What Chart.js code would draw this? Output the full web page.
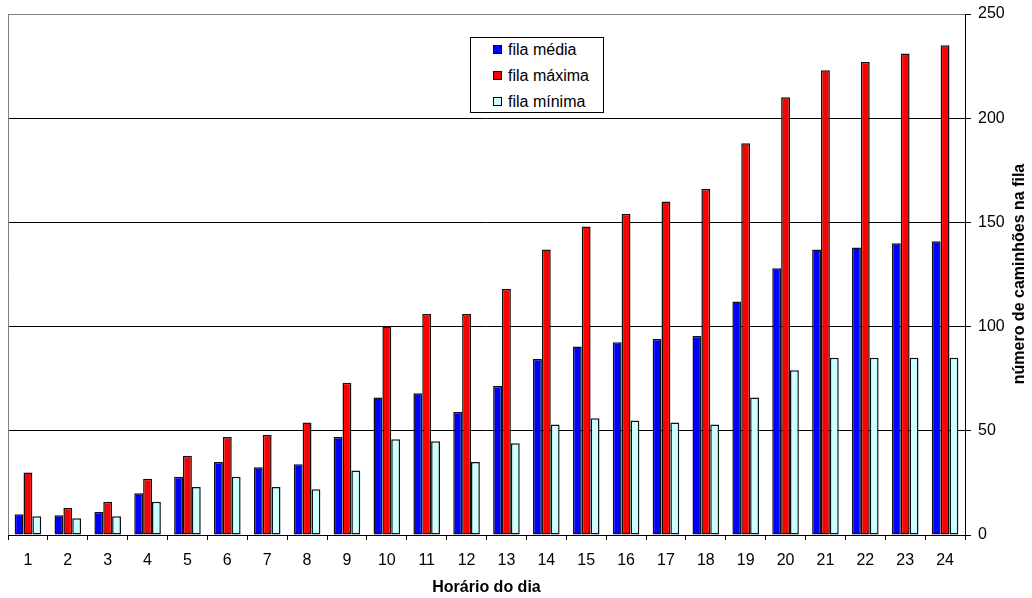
<!DOCTYPE html>
<html>
<head>
<meta charset="utf-8">
<script src="https://cdn.jsdelivr.net/npm/chart.js@4/dist/chart.umd.min.js"></script>
<style>
  body { margin: 0; background: #fff; }
  #wrap { position: relative; width: 1032px; height: 598px; }
  #legend {
    position: absolute; left: 470px; top: 37px; width: 132px; height: 74px;
    border: 1px solid #000; background: #fff;
    font-family: "Liberation Sans", Arial, sans-serif; font-size: 16px; color: #000;
  }
  .item { position: absolute; left: 22px; height: 20px; line-height: 20px; white-space: nowrap; }
  .item span.box {
    display: inline-block; width: 7px; height: 7px; border: 1px solid #000;
    margin-right: 6px; vertical-align: 1px;
  }
</style>
</head>
<body>
<div id="wrap">
  <canvas id="chart" width="1032" height="598"></canvas>
  <div id="legend"></div>
</div>
<script>

/* DATA */

const hours = ["1","2","3","4","5","6","7","8","9","10","11","12",
  "13","14","15","16","17","18","19","20","21","22","23","24"];

const filaMedia = [10, 9.5, 11, 20, 28, 35, 32.5, 34, 47, 66, 68, 59,
  71.5, 84.5, 90.5, 92.5, 94, 95.5, 112, 128, 137, 138, 140, 141];

const filaMaxima = [30, 13, 16, 27, 38, 47, 48, 54, 73, 100, 106, 106,
  118, 137, 148, 154, 160, 166, 188, 210, 223, 227, 231, 235];

const filaMinima = [9, 8, 9, 16, 23, 28, 23, 22, 31, 46, 45, 35,
  44, 53, 56, 55, 54, 53, 66, 79, 85, 85, 85, 85];

const seriesNames = ["fila média", "fila máxima", "fila mínima"];
const seriesColors = ["#0000FF", "#FF0000", "#CCFFFF"];

const xTitle = "Horário do dia";
const yTitle = "número de caminhões na fila";

const FONT = "'Liberation Sans', Arial, sans-serif";


/* LEGEND (html box) */

const legend = document.getElementById("legend");

seriesNames.forEach((name, i) => {
  const div = document.createElement("div");
  div.className = "item";
  div.style.top = (1.5 + i * 26) + "px";
  div.innerHTML = `<span class="box" style="background:${seriesColors[i]}"></span>${name}`;
  legend.appendChild(div);
});


/* FRAME + TITLES */

const framePlugin = {
  id: "frame",
  beforeDatasetsDraw(chart) {
    const { ctx, chartArea: a } = chart;
    ctx.save();
    ctx.strokeStyle = "#808080";
    ctx.lineWidth = 1;
    ctx.beginPath();
    ctx.moveTo(a.left + 0.5, a.bottom);
    ctx.lineTo(a.left + 0.5, a.top + 0.5);
    ctx.lineTo(a.right, a.top + 0.5);
    ctx.stroke();
    ctx.restore();
  },
  afterDraw(chart) {
    const { ctx, chartArea: a } = chart;
    ctx.save();
    ctx.fillStyle = "#000";
    ctx.font = "bold 16px " + FONT;
    ctx.textAlign = "center";
    ctx.textBaseline = "middle";
    ctx.fillText(xTitle, (a.left + a.right) / 2, 588);
    ctx.translate(1020, 274);
    ctx.rotate(-Math.PI / 2);
    ctx.fillText(yTitle, 0, 0);
    ctx.restore();
  }
};


/* CHART */

const datasets = [filaMedia, filaMaxima, filaMinima].map((vals, i) => ({
  label: seriesNames[i],
  data: vals,
  backgroundColor: seriesColors[i],
  borderColor: "#111",
  borderWidth: 1.5,
  borderSkipped: false,
  categoryPercentage: 0.667,
  barPercentage: 1
}));

new Chart(document.getElementById("chart"), {

  type: "bar",

  data: {
    labels: hours,
    datasets: datasets
  },

  options: {
    responsive: false,
    animation: false,
    layout: { padding: { left: 8, top: 14, right: 0, bottom: 0 } },
    plugins: {
      legend: { display: false },
      tooltip: { enabled: false }
    },
    scales: {
      x: {
        afterFit: s => { s.height = 63; s.paddingLeft = 0; s.paddingRight = 0; },
        grid: {
          offset: true,
          drawOnChartArea: false,
          tickLength: 5,
          tickColor: "#000"
        },
        border: { color: "#000", width: 1 },
        ticks: {
          color: "#000",
          padding: 11,
          maxRotation: 0,
          autoSkip: false,
          font: { family: FONT, size: 16 }
        }
      },
      y: {
        position: "right",
        min: 0,
        max: 250,
        afterFit: s => { s.width = 67; s.paddingTop = 0; s.paddingBottom = 0; },
        grid: {
          color: ctx => ctx.tick && ctx.tick.value === 250 ? "#808080" : "#000",
          tickColor: "#000",
          tickLength: 6
        },
        border: { color: "#000", width: 1 },
        ticks: {
          stepSize: 50,
          color: "#000",
          padding: 7,
          font: { family: FONT, size: 16 }
        }
      }
    }
  },

  plugins: [framePlugin]

});

</script>
</body>
</html>
